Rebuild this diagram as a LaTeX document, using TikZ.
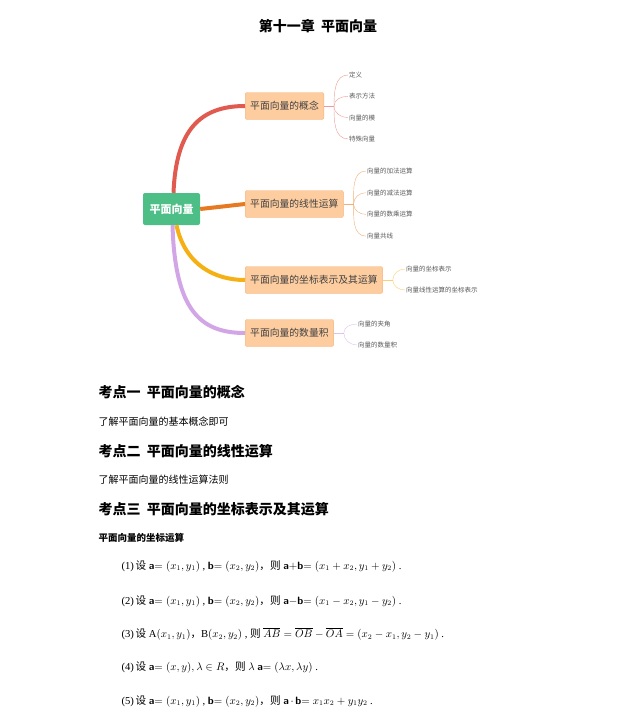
\documentclass[tikz,border=0pt]{standalone}
\usepackage{fontspec}
\setmainfont{Liberation Serif}
\newfontfamily\cjk{Noto Sans CJK SC}
\usetikzlibrary{positioning}
\definecolor{rootgreen}{HTML}{4DBF86}
\definecolor{boxfill}{HTML}{FDCDA0}
\definecolor{boxline}{HTML}{F5B27A}
\definecolor{redline}{HTML}{E05A4F}
\definecolor{orangeline}{HTML}{E67A22}
\definecolor{yellowline}{HTML}{F5B014}
\definecolor{purpleline}{HTML}{D2A6E6}
\newcommand{\va}{\textsf{\bfseries a}}
\newcommand{\vb}{\textsf{\bfseries b}}
\newcommand{\cm}{{\cjk ，}}
\tikzset{
    rootbox/.style={fill=rootgreen, rounded corners=2pt, minimum width=57pt, minimum height=32pt, text=white, font=\cjk\bfseries\fontsize{11}{11}\selectfont},
    branchbox/.style={fill=boxfill, draw=boxline, rounded corners=2pt, minimum height=27pt, inner xsep=5pt, font=\cjk\fontsize{9.8}{9.8}\selectfont, text=black!75},
    leaf/.style={anchor=west, inner sep=1pt, font=\cjk\fontsize{6.5}{6.5}\selectfont, text=black!65},
    heading/.style={anchor=west, font=\cjk\bfseries\fontsize{14}{14}\selectfont},
    bodytext/.style={anchor=west, font=\cjk\fontsize{10}{10}\selectfont},
    formula/.style={anchor=west, font=\fontsize{10.6}{12}\selectfont}
}
\begin{document}
\begin{tikzpicture}[x=1pt, y=-1pt]
    \useasboundingbox (0,0) rectangle (636,721);

    % title
    \node[font=\cjk\bfseries\fontsize{14}{14}\selectfont] (title) at (318,26) {第十一章\ \ 平面向量};

    % --- mind map ---
    \node[rootbox] (root) at (171.5,209) {平面向量};
    \node[branchbox, anchor=west] (concept) at (245,106) {平面向量的概念};
    \node[branchbox, anchor=west] (linear) at (245,204) {平面向量的线性运算};
    \node[branchbox, anchor=west] (coord) at (245,280) {平面向量的坐标表示及其运算};
    \node[branchbox, anchor=west] (dot) at (245,333) {平面向量的数量积};

    % main branches
    \draw[redline, line width=4pt] ([xshift=2pt]root.north) .. controls (176,130) and (200,106) .. (concept.west);
    \draw[orangeline, line width=4pt] (root.east) -- (linear.west);
    \draw[yellowline, line width=4pt] ([xshift=5pt]root.south) .. controls (185,265) and (215,280) .. (coord.west);
    \draw[purpleline, line width=4pt] ([xshift=1pt]root.south) .. controls (175,310) and (200,333) .. (dot.west);

    % leaves of the concept branch
    \coordinate (f1) at ([xshift=10pt]concept.east);
    \draw[redline!60] (concept.east) -- (f1);
    \foreach \txt [count=\i] in {定义, 表示方法, 向量的模, 特殊向量} {
        \node[leaf] (c\i) at (348,75+21.3*\i-21.3) {\txt};
        \draw[redline!60] (f1) to[out=90*sign(0.5-\i+2), in=180] (c\i.west);
    }

    % leaves of the linear branch
    \coordinate (f2) at ([xshift=10pt]linear.east);
    \draw[orangeline!60] (linear.east) -- (f2);
    \foreach \txt [count=\i] in {向量的加法运算, 向量的减法运算, 向量的数乘运算, 向量共线} {
        \node[leaf] (l\i) at (366,171+21.7*\i-21.7) {\txt};
        \draw[orangeline!60] (f2) to[out=90*sign(0.5-\i+2), in=180] (l\i.west);
    }

    % leaves of the coordinate branch
    \coordinate (f3) at ([xshift=10pt]coord.east);
    \draw[yellowline!60] (coord.east) -- (f3);
    \node[leaf] (k1) at (405,269) {向量的坐标表示};
    \node[leaf] (k2) at (405,290) {向量线性运算的坐标表示};
    \draw[yellowline!60] (f3) to[out=90, in=180] (k1.west);
    \draw[yellowline!60] (f3) to[out=-90, in=180] (k2.west);

    % leaves of the dot branch
    \coordinate (f4) at ([xshift=10pt]dot.east);
    \draw[purpleline!70] (dot.east) -- (f4);
    \node[leaf] (d1) at (357,324) {向量的夹角};
    \node[leaf] (d2) at (357,345) {向量的数量积};
    \draw[purpleline!70] (f4) to[out=90, in=180] (d1.west);
    \draw[purpleline!70] (f4) to[out=-90, in=180] (d2.west);

    % --- text below ---
    \node[heading] (h1) at (95,392) {考点一\ \ 平面向量的概念};
    \node[bodytext] (t1) at (95,422) {了解平面向量的基本概念即可};
    \node[heading] (h2) at (95,451) {考点二\ \ 平面向量的线性运算};
    \node[bodytext] (t2) at (95,480) {了解平面向量的线性运算法则};
    \node[heading] (h3) at (95,509) {考点三\ \ 平面向量的坐标表示及其运算};
    \node[anchor=west, font=\cjk\bfseries\fontsize{9.5}{9.5}\selectfont] (sub) at (95,538) {平面向量的坐标运算};

    \node[formula] (e1) at (118,566) {(1)\,{\cjk 设} \va$=(x_1,y_1)$ , \vb$=(x_2,y_2)$\cm{\cjk 则} \va$+$\vb$=(x_1+x_2,y_1+y_2)$ .};
    \node[formula] (e2) at (118,601) {(2)\,{\cjk 设} \va$=(x_1,y_1)$ , \vb$=(x_2,y_2)$\cm{\cjk 则} \va$-$\vb$=(x_1-x_2,y_1-y_2)$ .};
    \node[formula] (e3) at (118,634) {(3)\,{\cjk 设} A$(x_1,y_1)$\cm B$(x_2,y_2)$ , {\cjk 则} $\overline{AB}=\overline{OB}-\overline{OA}=(x_2-x_1,y_2-y_1)$ .};
    \node[formula] (e4) at (118,667) {(4)\,{\cjk 设} \va$=(x,y),\lambda\in R$\cm{\cjk 则} $\lambda$ \va$=(\lambda x,\lambda y)$ .};
    \node[formula] (e5) at (118,701) {(5)\,{\cjk 设} \va$=(x_1,y_1)$ , \vb$=(x_2,y_2)$\cm{\cjk 则} \va\,$\cdot$\,\vb$=x_1x_2+y_1y_2$ .};
\end{tikzpicture}
\end{document}
